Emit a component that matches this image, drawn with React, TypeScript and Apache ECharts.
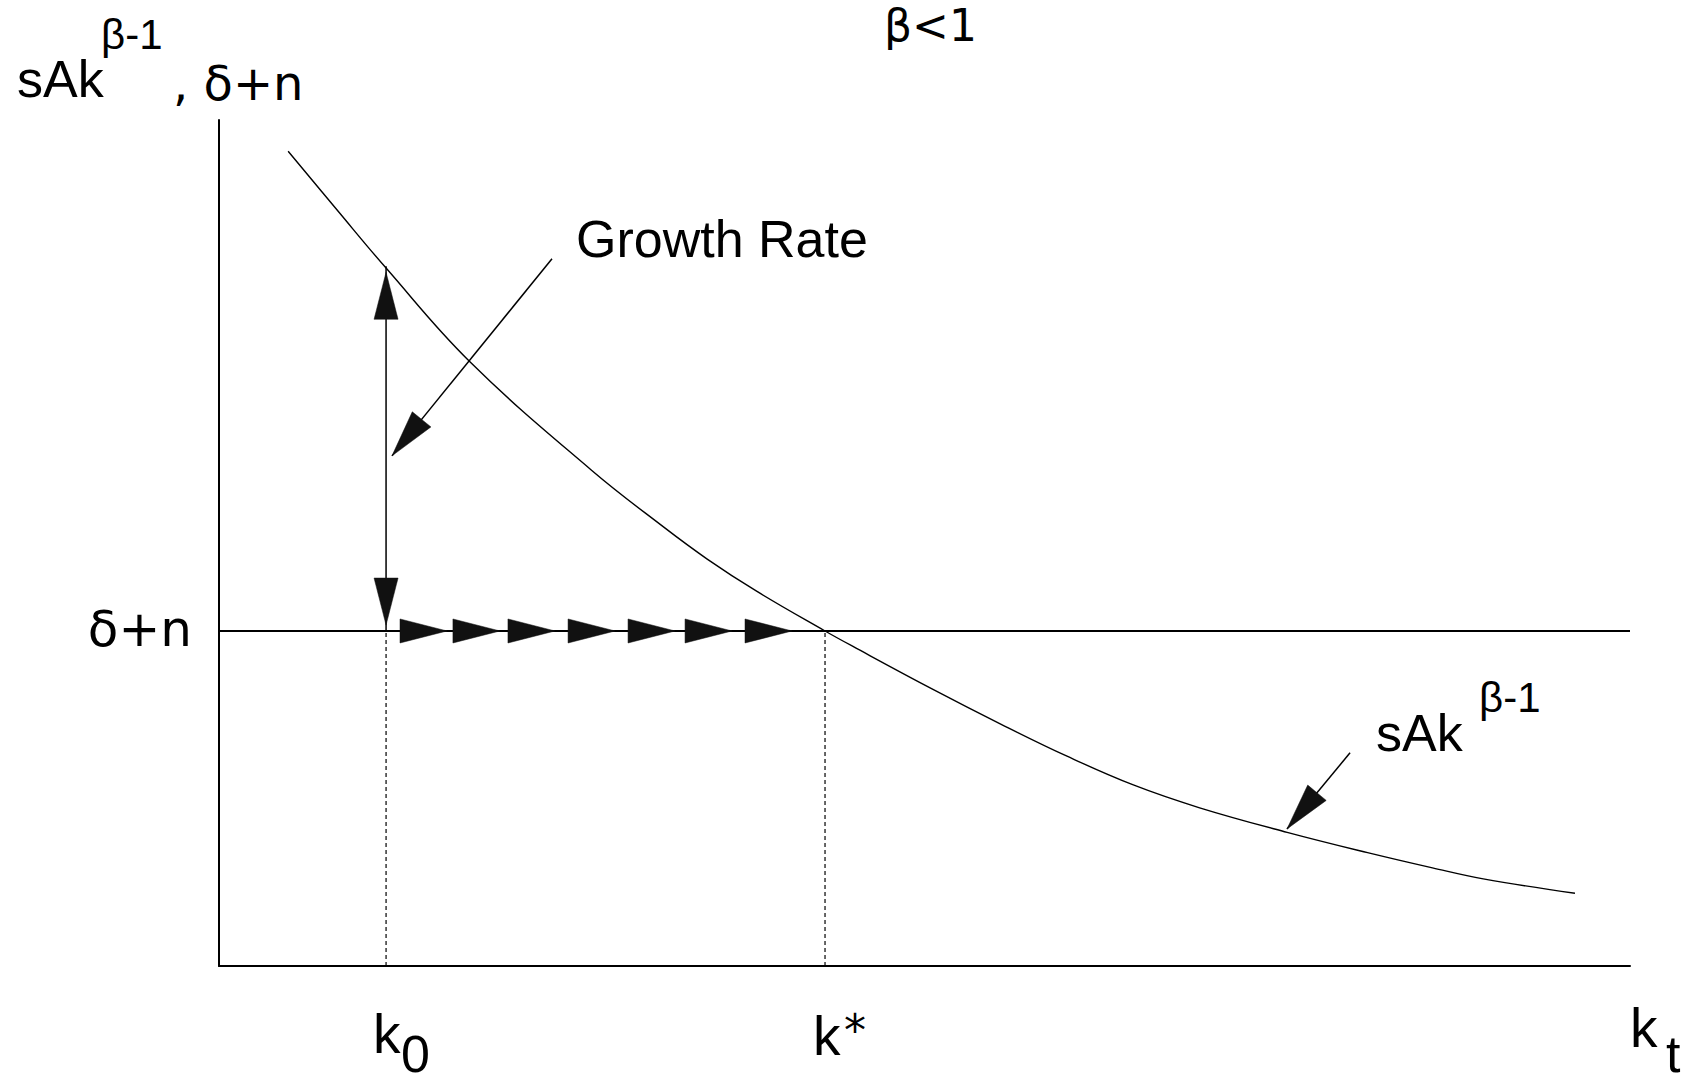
import React, { useEffect, useRef } from "react";
import * as echarts from "echarts";

// ---- values (axis units 0..100) ----
const curveK = [4.9, 8.4, 11.84, 17.8, 26.4, 31.5, 34.6, 38.1, 42.95, 44.9, 50.6, 55.4, 60.1, 64.8, 69.5, 75.7, 81.4, 86.0, 89.6, 96.1];
const curveRate = [96.3, 89.3, 82.5, 71.4, 58.6, 51.9, 48.1, 44.3, 39.6, 37.8, 32.7, 28.6, 24.8, 21.4, 18.7, 15.8, 13.4, 11.6, 10.3, 8.6];

const k0 = 11.84;
const kStar = 42.95;
const deltaN = 39.6;
const growthTop = 82.7;
const upTip = 82.0;
const downTip = 40.3;
const flowArrowTips = [16.16, 19.91, 23.81, 28.07, 32.32, 36.36, 40.61];
const growthPointer = [[23.6, 83.6], [12.26, 60.3]];
const curvePointer = [[80.16, 25.2], [75.69, 16.2]];

const SANS = '"Liberation Sans", Arial, sans-serif';
const DEJA = '"DejaVu Sans", sans-serif';
const INK = "#000";

function label(text: string, x: number, baseline: number, size: number, family: string = SANS, align: string = "left") {
  return {
    type: "text",
    x,
    y: baseline - 0.35 * size,
    silent: true,
    style: {
      text,
      font: `${size}px ${family}`,
      fill: INK,
      align,
      textAlign: align,
      verticalAlign: "middle",
      textVerticalAlign: "middle",
    },
  };
}

export default function App() {
  const ref = useRef<HTMLDivElement | null>(null);

  useEffect(() => {
    if (!ref.current) return;
    const chart = echarts.init(ref.current, undefined, { renderer: "svg" });

    const headData = [
      [k0, upTip, k0, deltaN],
      [k0, downTip, k0, growthTop],
      [growthPointer[1][0], growthPointer[1][1], growthPointer[0][0], growthPointer[0][1]],
      [curvePointer[1][0], curvePointer[1][1], curvePointer[0][0], curvePointer[0][1]],
      ...flowArrowTips.map((t) => [t, deltaN, t - 5, deltaN]),
    ];

    const plainLine = (data: number[][], width: number, type: any = "solid", z = 3) => ({
      type: "line",
      data,
      showSymbol: false,
      symbol: "none",
      silent: true,
      z,
      lineStyle: { color: INK, width, type },
    });

    const option: any = {
      animation: false,
      backgroundColor: "#fff",
      grid: { left: 219, right: 67, top: 120, bottom: 117 },
      xAxis: {
        type: "value",
        min: 0,
        max: 100,
        axisLine: { show: true, onZero: false, lineStyle: { color: INK, width: 2 } },
        axisTick: { show: false },
        axisLabel: { show: false },
        splitLine: { show: false },
      },
      yAxis: {
        type: "value",
        min: 0,
        max: 100,
        axisLine: { show: true, onZero: false, lineStyle: { color: INK, width: 2 } },
        axisTick: { show: false },
        axisLabel: { show: false },
        splitLine: { show: false },
      },
      series: [
        {
          type: "line",
          data: curveK.map((k, i) => [k, curveRate[i]]),
          smooth: 0.4,
          showSymbol: false,
          symbol: "none",
          silent: true,
          z: 4,
          lineStyle: { color: INK, width: 1.4 },
        },
        plainLine([[0, deltaN], [100, deltaN]], 2),
        plainLine([[k0, 0], [k0, deltaN]], 1.2, [4, 3]),
        plainLine([[kStar, 0], [kStar, deltaN]], 1.2, [4, 3]),
        plainLine([[k0, deltaN], [k0, growthTop]], 1.5),
        plainLine(growthPointer, 1.5),
        plainLine(curvePointer, 1.5),
        {
          type: "custom",
          data: headData,
          encode: { x: [0, 2], y: [1, 3] },
          clip: false,
          silent: true,
          z: 6,
          renderItem: (_params: any, api: any) => {
            const tip = api.coord([api.value(0), api.value(1)]);
            const from = api.coord([api.value(2), api.value(3)]);
            const dx = from[0] - tip[0];
            const dy = from[1] - tip[1];
            const L = Math.hypot(dx, dy) || 1;
            const ux = dx / L;
            const uy = dy / L;
            const len = 47;
            const half = 12;
            const bx = tip[0] + ux * len;
            const by = tip[1] + uy * len;
            return {
              type: "polygon",
              shape: {
                points: [
                  [tip[0], tip[1]],
                  [bx - uy * half, by + ux * half],
                  [bx + uy * half, by - ux * half],
                ],
              },
              style: { fill: "#111", stroke: "#111", lineWidth: 0.5 },
            };
          },
        },
      ],
    };

    chart.setOption(option);

    const pK0 = chart.convertToPixel({ gridIndex: 0 }, [k0, 0]) as number[];
    const pKs = chart.convertToPixel({ gridIndex: 0 }, [kStar, deltaN]) as number[];
    const pDn = chart.convertToPixel({ gridIndex: 0 }, [0, deltaN]) as number[];
    const pEnd = chart.convertToPixel({ gridIndex: 0 }, [100, 0]) as number[];

    chart.setOption({
      graphic: [
        // y-axis title
        label("sAk", 17, 97, 52),
        label("β-1", 101, 49, 42),
        label(", δ+n", 173, 100, 48, DEJA),
        // panel title
        label("β<1", 884, 41, 44, DEJA),
        // annotations
        label("Growth Rate", 576, 257, 52),
        label("sAk", 1376, 751, 52),
        label("β-1", 1479, 712, 42),
        // y tick label
        label("δ+n", pDn[0] - 27, pDn[1] + 16, 50, DEJA, "right"),
        // x labels
        label("k", pK0[0] - 13, 1053, 55),
        label("0", pK0[0] + 15, 1072, 52),
        label("k", pKs[0] - 12, 1055, 55),
        label("*", pKs[0] + 19, 1046, 44, DEJA),
        label("k", pEnd[0] + 0, 1047, 55),
        label("t", pEnd[0] + 36, 1072, 52),
      ],
    });

    return () => chart.dispose();
  }, []);

  return (
    <div
      ref={ref}
      style={{ position: "absolute", left: 0, top: 0, width: 1697, height: 1083, background: "#fff" }}
    />
  );
}
